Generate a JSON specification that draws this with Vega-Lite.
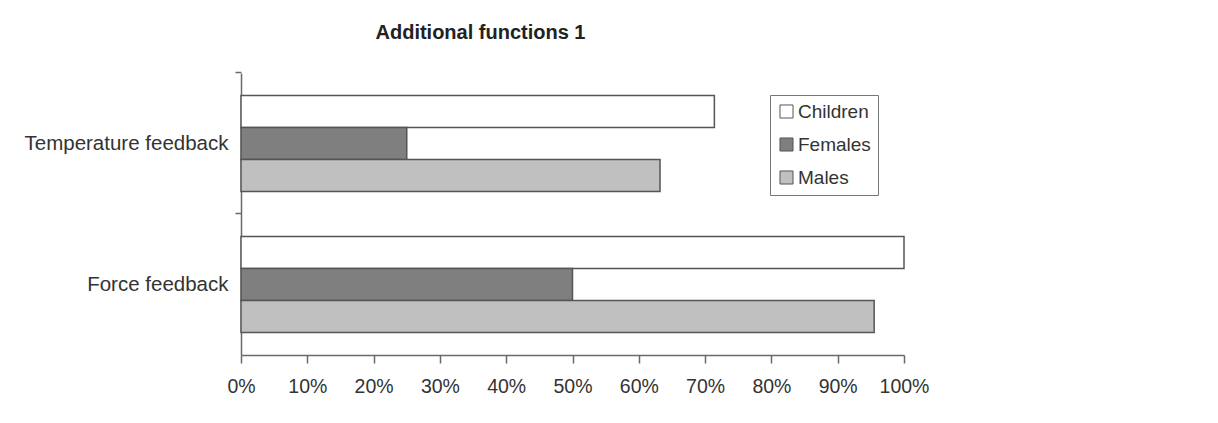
{
  "$schema": "https://vega.github.io/schema/vega-lite/v6.json",
  "autosize": {"type": "none"},
  "padding": {"left": 241, "top": 73, "right": 314, "bottom": 68},
  "width": 663,
  "height": 282,
  "background": "white",
  "title": {
    "text": "Additional functions 1",
    "font": "Liberation Sans",
    "fontSize": 20,
    "fontWeight": "bold",
    "color": "#222222",
    "anchor": "middle",
    "dx": -92,
    "offset": 28
  },
  "data": {
    "values": [
      {"category": "Temperature feedback", "series": "Children", "value": 0.714},
      {"category": "Temperature feedback", "series": "Females", "value": 0.25},
      {"category": "Temperature feedback", "series": "Males", "value": 0.632},
      {"category": "Force feedback", "series": "Children", "value": 1.0},
      {"category": "Force feedback", "series": "Females", "value": 0.5},
      {"category": "Force feedback", "series": "Males", "value": 0.955}
    ]
  },
  "mark": {"type": "bar", "stroke": "#555555", "strokeWidth": 1.5},
  "encoding": {
    "y": {
      "field": "category",
      "type": "nominal",
      "sort": ["Temperature feedback", "Force feedback"],
      "scale": {"paddingInner": 0.32, "paddingOuter": 0.16},
      "axis": {
        "title": null,
        "bandPosition": -0.24,
        "tickSize": 6,
        "tickColor": "#6a6a6a",
        "tickWidth": 1.5,
        "domainColor": "#6a6a6a",
        "domainWidth": 1.5,
        "labelFont": "Liberation Sans",
        "labelFontSize": 20.5,
        "labelColor": "#333333",
        "labelPadding": 7,
        "labelLimit": 400
      }
    },
    "yOffset": {
      "field": "series",
      "type": "nominal",
      "sort": ["Children", "Females", "Males"],
      "scale": {"paddingInner": 0, "paddingOuter": 0}
    },
    "x": {
      "field": "value",
      "type": "quantitative",
      "scale": {"domain": [0, 1], "nice": false},
      "axis": {
        "title": null,
        "format": ".0%",
        "values": [0, 0.1, 0.2, 0.3, 0.4, 0.5, 0.6, 0.7, 0.8, 0.9, 1.0],
        "grid": false,
        "tickSize": 8,
        "tickColor": "#6a6a6a",
        "tickWidth": 1.5,
        "domainColor": "#6a6a6a",
        "domainWidth": 1.5,
        "labelFont": "Liberation Sans",
        "labelFontSize": 19.5,
        "labelColor": "#333333",
        "labelPadding": 14,
        "labelFlush": false
      }
    },
    "fill": {
      "field": "series",
      "type": "nominal",
      "sort": ["Children", "Females", "Males"],
      "scale": {"domain": ["Children", "Females", "Males"], "range": ["#ffffff", "#7f7f7f", "#c0c0c0"]},
      "legend": {
        "title": null,
        "orient": "none",
        "legendX": 529,
        "legendY": 22,
        "symbolType": "square",
        "symbolSize": 170,
        "symbolStrokeColor": "#555555",
        "symbolStrokeWidth": 1,
        "symbolOpacity": 1,
        "labelFont": "Liberation Sans",
        "labelFontSize": 19,
        "labelColor": "#333333",
        "labelOffset": 2,
        "rowPadding": 13,
        "padding": 7,
        "strokeColor": "#777777",
        "fillColor": "white"
      }
    }
  },
  "config": {
    "view": {"stroke": null}
  }
}
